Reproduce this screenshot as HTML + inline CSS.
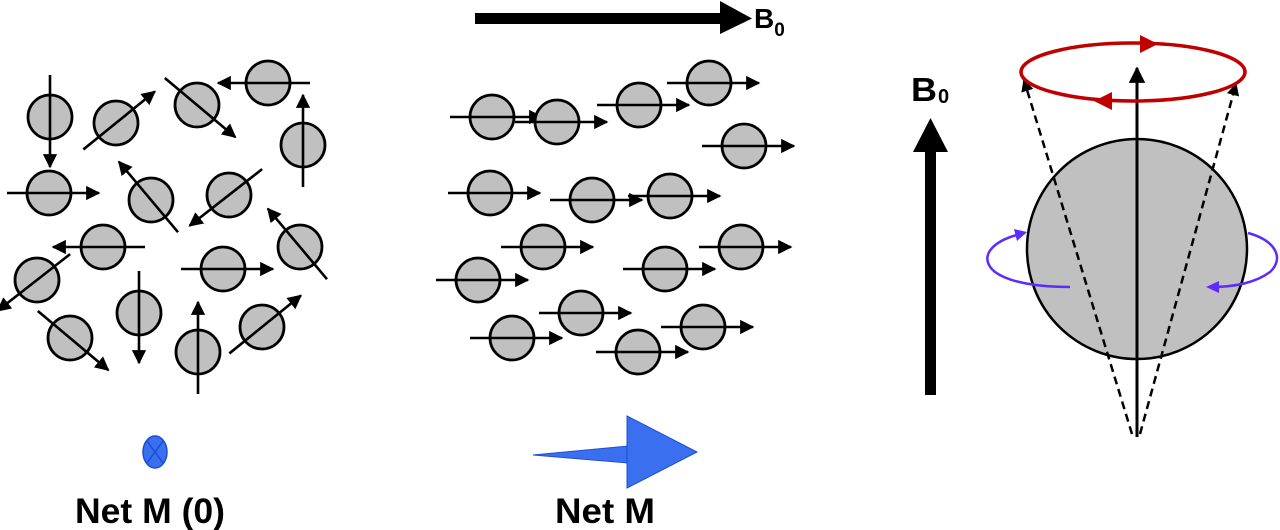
<!DOCTYPE html>
<html><head><meta charset="utf-8">
<style>
html,body{margin:0;padding:0;background:#fff;}
svg{display:block;}
text{font-family:"Liberation Sans",Arial,sans-serif;font-weight:bold;fill:#000;}
</style></head>
<body>
<svg id="fig" width="1280" height="530" viewBox="0 0 1280 530" xmlns="http://www.w3.org/2000/svg">
<defs>
<marker id="ah" viewBox="0 0 10 10" refX="9" refY="5" markerWidth="5.5" markerHeight="5.5" orient="auto" markerUnits="strokeWidth"><path d="M0,0 L10,5 L0,10 z" fill="#000"/></marker>
<marker id="ahs" viewBox="0 0 10 10" refX="9" refY="5" markerWidth="5" markerHeight="5" orient="auto" markerUnits="strokeWidth"><path d="M0,0 L10,5 L0,10 z" fill="#000"/></marker>
</defs>

<g>
<rect x="475" y="13" width="247" height="11" fill="#000"/>
<polygon points="720,1 752,18.5 720,34" fill="#000"/>
</g>
<text x="754" y="28" font-size="28">B<tspan font-size="19" dy="8">0</tspan></text>

<g id="left-spins"></g>
<g id="mid-spins"></g>

<g>
<ellipse cx="155" cy="452" rx="12" ry="16" fill="#3a6ff0" stroke="#1d4fd0" stroke-width="1.5"/>
<line x1="147" y1="441" x2="163" y2="463" stroke="#1d4fd0" stroke-width="1.5"/>
<line x1="163" y1="441" x2="147" y2="463" stroke="#1d4fd0" stroke-width="1.5"/>
</g>
<text x="75" y="523" font-size="35" textLength="150" lengthAdjust="spacingAndGlyphs">Net M (0)</text>

<g>
<polygon points="533,455 628,446 628,463" fill="#3a6ff0" stroke="#1d4fd0" stroke-width="1"/>
<polygon points="627,416 697,452 627,488" fill="#3a6ff0" stroke="#1d4fd0" stroke-width="1"/>
</g>
<text x="555" y="523" font-size="35" textLength="100" lengthAdjust="spacingAndGlyphs">Net M</text>

<text x="911" y="101" font-size="33" textLength="26" lengthAdjust="spacingAndGlyphs">B</text>
<text x="938" y="103" font-size="20">0</text>
<g>
<rect x="925" y="150" width="11" height="245" fill="#000"/>
<polygon points="913,152 930.5,118 948,152" fill="#000"/>
</g>

<circle cx="1137" cy="249" r="110" fill="#c0c0c0" stroke="#000" stroke-width="2.5"/>

<path d="M1025,233 C990,240 978,258 995,272 C1010,283 1040,287 1070,287" fill="none" stroke="#5b2cff" stroke-width="2.5"/>
<polygon points="1027,232 1014,229 1017,241" fill="#5b2cff"/>
<path d="M1248,233 C1275,240 1285,258 1270,272 C1255,283 1235,287 1210,287" fill="none" stroke="#5b2cff" stroke-width="2.5"/>
<polygon points="1206,287 1219,281 1219,293" fill="#5b2cff"/>

<line x1="1132" y1="434" x2="1024" y2="80" stroke="#000" stroke-width="2.5" stroke-dasharray="8,5" marker-end="url(#ahs)"/>
<line x1="1140" y1="434" x2="1236" y2="84" stroke="#000" stroke-width="2.5" stroke-dasharray="8,5" marker-end="url(#ahs)"/>
<line x1="1137" y1="437" x2="1137" y2="68" stroke="#000" stroke-width="3" marker-end="url(#ah)"/>

<ellipse cx="1133" cy="72" rx="112" ry="29" fill="none" stroke="#c00000" stroke-width="3.5"/>
<polygon points="1140,35 1158,44 1140,53" fill="#c00000"/>
<polygon points="1112,92 1094,101 1112,110" fill="#c00000"/>
</svg>
<script>
// spins: centre x, centre y, arrow angle (deg, 0 = right, 90 = down)
const leftX = [50,116,197,268,303,49,151,229,103,37,300,223,139,70,198,262];
const leftY = [117,123,105,83,145,193,200,195,247,280,247,269,313,338,352,327];
const leftAng = [90,-39,40,180,-90,0,-130,142,180,142,-130,0,90,40,-90,-39];
const midX = [492,557,639,709,744,490,592,670,543,478,665,741,581,512,638,703];
const midY = [117,122,105,83,146,193,200,196,247,280,269,247,313,338,352,327];
const midAng = [0,0,0,0,0,0,0,0,0,0,0,0,0,0,0,0];

const NS = 'http://www.w3.org/2000/svg';
function drawSpins(gid, xs, ys, angs) {
  const g = document.getElementById(gid);
  for (let i = 0; i < xs.length; i++) {
    const c = document.createElementNS(NS, 'circle');
    c.setAttribute('cx', xs[i]); c.setAttribute('cy', ys[i]); c.setAttribute('r', 22);
    c.setAttribute('fill', '#c0c0c0'); c.setAttribute('stroke', '#000'); c.setAttribute('stroke-width', 2.8);
    
    
    g.appendChild(c);
    const a = angs[i] * Math.PI / 180;
    const back = 42, fwd = 50;
    const l = document.createElementNS(NS, 'line');
    l.setAttribute('x1', xs[i] - back * Math.cos(a)); l.setAttribute('y1', ys[i] - back * Math.sin(a));
    l.setAttribute('x2', xs[i] + fwd * Math.cos(a)); l.setAttribute('y2', ys[i] + fwd * Math.sin(a));
    l.setAttribute('stroke', '#000'); l.setAttribute('stroke-width', 2.6);
    l.setAttribute('marker-end', 'url(#ah)');
    
    
    g.appendChild(l);
  }
}
drawSpins('left-spins', leftX, leftY, leftAng);
drawSpins('mid-spins', midX, midY, midAng);
</script>
</body></html>
